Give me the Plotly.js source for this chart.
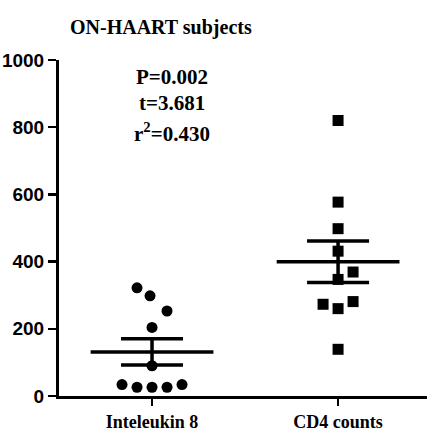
<!DOCTYPE html>
<html>
<head>
<meta charset="utf-8">
<script src="https://cdn.plot.ly/plotly-3.0.1.min.js"></script>
<style>html,body{margin:0;padding:0;background:#fff;}#chart{width:428px;height:433px;}</style>
</head>
<body>
<div id="chart"></div>
<script>
// Data
const categories = ["Inteleukin 8", "CD4 counts"];
const il8Values = [322, 298, 253, 204, 90, 34, 26, 26, 26, 34];
const cd4Values = [820, 577, 498, 431, 369, 347, 273, 281, 260, 139];
const yTickVals = [0, 200, 400, 600, 800, 1000];
const statsText = ["P=0.002", "t=3.681", "r<sup>2</sup>=0.430"];

// Layout helpers (horizontal spread of points, in px, to avoid overlap)
const pxPerUnit = 186;
const il8Spread = [-15, -2, 15, 0, 0, -30, -15, 0, 15, 30];
const cd4Spread = [0, 0, 0, 0, 15, 0, -15, 15, 0, 0];

function mean(a){return a.reduce((s,v)=>s+v,0)/a.length;}
function sem(a){const m=mean(a);const v=a.reduce((s,x)=>s+(x-m)*(x-m),0)/(a.length-1);return Math.sqrt(v)/Math.sqrt(a.length);}

const groups = [il8Values, cd4Values];
const spreads = [il8Spread, cd4Spread];
const symbols = ["circle", "square"];
const traces = [];
groups.forEach((vals, gi) => {
  traces.push({
    type: "scatter", mode: "markers",
    x: vals.map((v, i) => gi + spreads[gi][i] / pxPerUnit),
    y: vals,
    marker: {symbol: symbols[gi], size: 11, color: "#000"},
    hoverinfo: "y", showlegend: false, cliponaxis: false
  });
  const m = mean(vals);
  traces.push({
    type: "scatter", mode: "lines",
    x: [gi - 0.33, gi + 0.33], y: [m, m],
    line: {color: "#000", width: 3.5}, showlegend: false, hoverinfo: "skip"
  });
  traces.push({
    type: "scatter", mode: "markers",
    x: [gi], y: [m],
    marker: {size: 1, color: "rgba(0,0,0,0)"},
    error_y: {type: "data", array: [sem(vals)], visible: true, color: "#000", thickness: 3.5, width: 31},
    showlegend: false, hoverinfo: "skip"
  });
});

const annY = [949, 872, 783];
const annotations = statsText.map((t, i) => ({
  x: 0.11, y: annY[i], xref: "x", yref: "y", text: t, showarrow: false,
  font: {family: "Liberation Serif, Times New Roman, serif", size: 21, color: "#000", weight: "bold"},
  xanchor: "center", yanchor: "middle"
}));

const layout = {
  width: 428, height: 433,
  margin: {l: 59, r: 1, t: 60, b: 37},
  paper_bgcolor: "#fff", plot_bgcolor: "#fff",
  title: {
    text: "<b>ON-HAART subjects</b>",
    font: {family: "Liberation Serif, Times New Roman, serif", size: 20, color: "#000"},
    x: 70 / 428, xanchor: "left", xref: "container", y: 1 - 27 / 433, yanchor: "middle", yref: "container"
  },
  xaxis: {
    range: [-0.5, 1.478], tickmode: "array", tickvals: [0, 1], ticktext: categories,
    showgrid: false, zeroline: false, showline: true, linecolor: "#000", linewidth: 3,
    ticks: "outside", ticklen: 7, tickwidth: 2.5, tickcolor: "#000",
    tickfont: {family: "Liberation Serif, Times New Roman, serif", size: 18, color: "#000", weight: "bold"},
    fixedrange: true
  },
  yaxis: {
    range: [0, 1000], tickmode: "array", tickvals: yTickVals,
    showgrid: false, zeroline: false, showline: true, linecolor: "#000", linewidth: 3,
    ticks: "outside", ticklen: 8, tickwidth: 2.5, tickcolor: "#000",
    tickfont: {family: "Liberation Sans Narrow, Arial Narrow, Liberation Sans, Arial, sans-serif", size: 19, color: "#000", weight: "bold"},
    fixedrange: true
  },
  annotations: annotations,
  showlegend: false
};

Plotly.newPlot("chart", traces, layout, {displayModeBar: false, staticPlot: true});
</script>
</body>
</html>
